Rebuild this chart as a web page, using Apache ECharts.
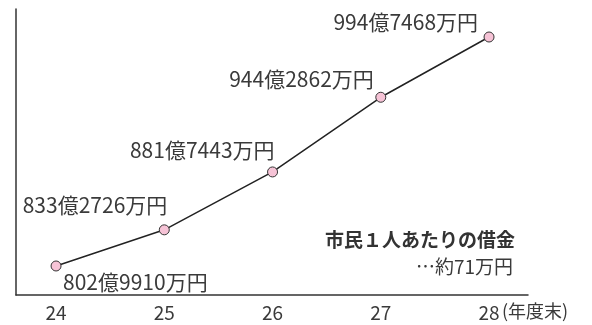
<!DOCTYPE html>
<html>
<head>
<meta charset="utf-8">
<script src="https://cdn.jsdelivr.net/npm/echarts@6/dist/echarts.min.js"></script>
<style>
  html, body { margin: 0; padding: 0; background: #fff; }
  #main { width: 592px; height: 325px; }
</style>
</head>
<body>
<div id="main"></div>
<script>
// 年度末（平成）
var years = [24, 25, 26, 27, 28];
// 市債残高（億円）
var debt = [802.9910, 833.2726, 881.7443, 944.2862, 994.7468];
var debtLabels = ["802億9910万円", "833億2726万円", "881億7443万円", "944億2862万円", "994億7468万円"];
// ラベル位置（点からのずれ）
var labelAlign = ["left", "right", "right", "right", "right"];
var labelOffset = [[7, 16], [3, -25], [2, -22], [-7, -18], [-11, -15]];

var FONT = '"Noto Sans CJK JP", "Noto Sans", sans-serif';
var TEXT_COLOR = "#3a3a3a";

var chart = echarts.init(document.getElementById("main"));

var seriesData = years.map(function (y, i) {
  return {
    value: [y, debt[i]],
    label: {
      show: true,
      position: "inside",
      align: labelAlign[i],
      verticalAlign: "middle",
      offset: labelOffset[i],
      formatter: debtLabels[i]
    }
  };
});

var option = {
  animation: false,
  grid: { left: 16, right: 64, top: 9, bottom: 30 },
  xAxis: {
    type: "value",
    min: 23.63,
    max: 28.36,
    splitLine: { show: false },
    axisLine: { show: true, lineStyle: { color: "#333", width: 1.5 } },
    axisTick: { show: false },
    axisLabel: {
      customValues: years,
      color: TEXT_COLOR,
      fontSize: 19,
      fontFamily: FONT,
      margin: 8
    }
  },
  yAxis: {
    type: "value",
    min: 778.7,
    max: 1018.2,
    splitLine: { show: false },
    axisLine: { show: true, lineStyle: { color: "#333", width: 1.5 } },
    axisTick: { show: false },
    axisLabel: { show: false }
  },
  series: [
    {
      type: "line",
      data: seriesData,
      symbol: "circle",
      symbolSize: 10,
      lineStyle: { color: "#222", width: 1.5 },
      itemStyle: { color: "#f6c3d6", borderColor: "#333", borderWidth: 1 },
      label: {
        color: TEXT_COLOR,
        fontSize: 21,
        fontFamily: FONT
      }
    }
  ],
  graphic: [
    {
      type: "text",
      left: 502,
      top: 302,
      style: { text: "(年度末)", fill: TEXT_COLOR, font: "18px " + FONT }
    },
    {
      type: "text",
      right: 77,
      top: 230,
      style: { text: "市民１人あたりの借金", fill: "#333", font: "bold 19px " + FONT }
    },
    {
      type: "text",
      right: 79,
      top: 257,
      style: { text: "…約71万円", fill: TEXT_COLOR, font: "19px " + FONT }
    }
  ]
};

chart.setOption(option);
</script>
</body>
</html>
